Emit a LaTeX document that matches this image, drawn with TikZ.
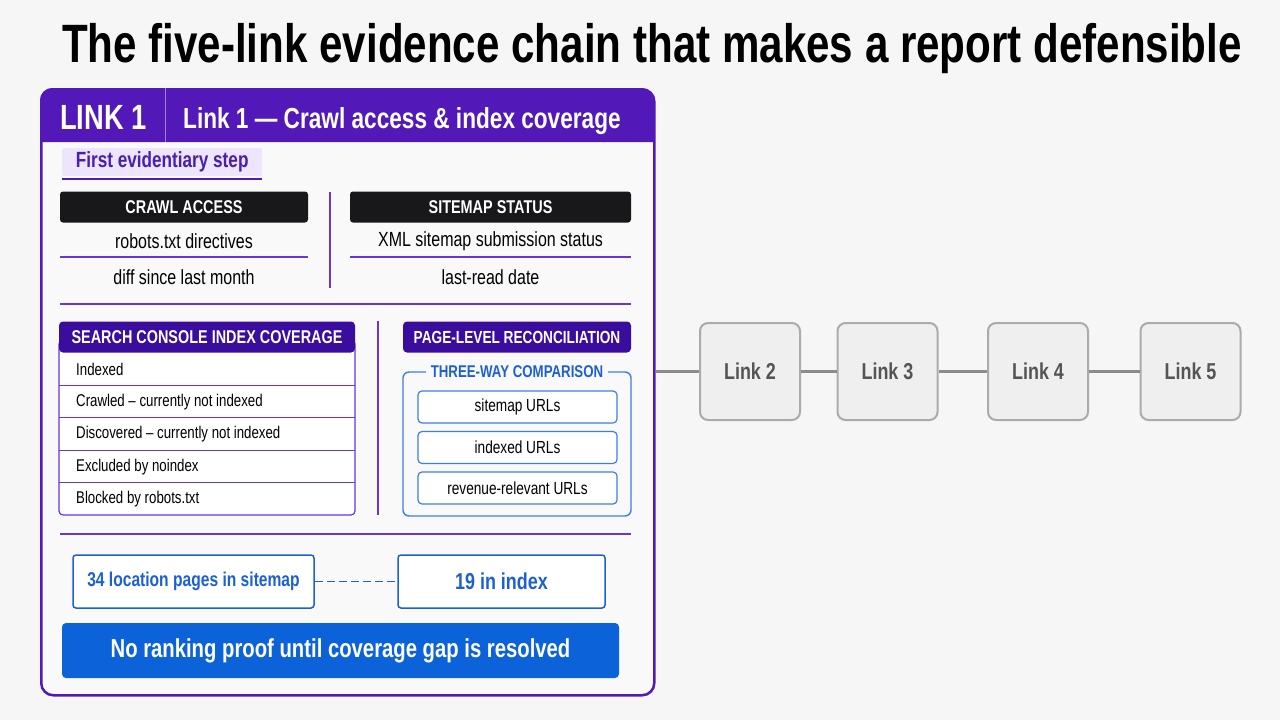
\documentclass[tikz,border=0pt]{standalone}
\usepackage{fontspec}
\setmainfont{Liberation Sans}[FakeStretch=0.78]
\usetikzlibrary{positioning}

\definecolor{pagebg}{HTML}{F6F6F7}
\definecolor{panelbg}{HTML}{F9F9FA}
\definecolor{hdrpurple}{HTML}{5219B8}
\definecolor{deeppurple}{HTML}{3B0D9F}
\definecolor{linepurple}{HTML}{6A35D4}
\definecolor{tagbg}{HTML}{ECE5FB}
\definecolor{tagtxt}{HTML}{4A1EAE}
\definecolor{barblack}{HTML}{18181B}
\definecolor{evblue}{HTML}{1C60D4}
\definecolor{boxblue}{HTML}{3D7EE8}
\definecolor{barblue}{HTML}{0C62D8}
\definecolor{linkfill}{HTML}{EFEFEF}
\definecolor{linkdraw}{HTML}{ABABAB}
\definecolor{linktxt}{HTML}{555555}
\definecolor{chaingray}{HTML}{8C8C8C}

\newcommand\fsz[1]{\fontsize{#1}{#1}\selectfont}

\begin{document}
\begin{tikzpicture}[x=1pt,y=-1pt,
  sepline/.style={linepurple,line width=1.2pt},
  blackbar/.style={fill=barblack,rounded corners=3pt,text=white,font=\fsz{18.5}\bfseries,minimum width=248pt,minimum height=31pt,inner sep=0pt},
  rowtxt/.style={font=\fsz{20.5},text=black,inner sep=0pt},
  purplebar/.style={fill=deeppurple,rounded corners=4pt,text=white,font=\fsz{18.5}\bfseries,minimum height=31pt,inner sep=0pt},
  listtxt/.style={font=\fsz{17},anchor=west,inner sep=0pt},
  urlbox/.style={draw=boxblue,line width=1.2pt,fill=white,rounded corners=4pt,minimum width=199pt,minimum height=32pt,font=\fsz{17.5},inner sep=0pt},
  countbox/.style={draw=evblue,line width=1.5pt,fill=white,rounded corners=3pt,minimum height=53pt,text=evblue,font=\fsz{20}\bfseries,inner sep=0pt},
  linkbox/.style={draw=linkdraw,line width=2pt,fill=linkfill,rounded corners=8pt,minimum width=100pt,minimum height=97pt,text=linktxt,font=\fsz{23}\bfseries},
  chain/.style={chaingray,line width=3pt}]
  \fill[pagebg] (0,0) rectangle (1280,720);
  \useasboundingbox (0,0) rectangle (1280,720);

  \node[anchor=base,font=\fsz{54}\bfseries] (title) at (652,62) {The five-link evidence chain that makes a report defensible};

  \node[draw=hdrpurple,line width=2.5pt,fill=panelbg,rounded corners=12pt,minimum width=613pt,minimum height=606pt,anchor=north west] (link1) at (40,88) {};
  \fill[hdrpurple] (40,142) [rounded corners=12pt] -- (40,88) -- (653,88) [sharp corners] -- (653,142) -- cycle;
  \draw[white!45!hdrpurple,line width=1pt] (165,88) -- (165,142);
  \node[anchor=base west,text=white,font=\fsz{35}\bfseries,inner sep=0pt] (linkno) at (60,129) {LINK 1};
  \node[anchor=base west,text=white,font=\fsz{29}\bfseries,inner sep=0pt] (linkname) at (183,128) {Link 1 — Crawl access \& index coverage};

  \node[fill=tagbg,rounded corners=2pt,anchor=north west,minimum width=200pt,minimum height=28pt,text=tagtxt,font=\fsz{22}\bfseries,inner sep=0pt] (step) at (62,148) {First evidentiary step};
  \draw[tagtxt,line width=2.5pt] ([yshift=-2.5pt]step.south west) -- ([yshift=-2.5pt]step.south east);

  \node[blackbar] (crawl) at (184,207) {CRAWL ACCESS};
  \node[rowtxt] (robots) at (184,241) {robots.txt directives};
  \node[rowtxt] (diff) at (184,277) {diff since last month};
  \draw[sepline] (60,257) -- (308,257);
  \draw[sepline] (330,192) -- (330,288);
  \node[blackbar,minimum width=281pt] (sitemap) at (490.5,207) {SITEMAP STATUS};
  \node[rowtxt] (xml) at (490.5,241) {XML sitemap submission status};
  \node[rowtxt] (lastread) at (490.5,277) {last-read date};
  \draw[sepline] (350,257) -- (631,257);

  \draw[sepline,line width=1.6pt] (60,304) -- (631,304);

  \draw[linepurple,line width=1.2pt,fill=white,rounded corners=4pt] (59,340) rectangle (355,515);
  \node[purplebar,minimum width=296pt] (console) at (207,337) {SEARCH CONSOLE INDEX COVERAGE};
  \foreach \i/\txt in {0/Indexed,1/{Crawled – currently not indexed},2/{Discovered – currently not indexed},3/{Excluded by noindex},4/{Blocked by robots.txt}}{
    \node[listtxt] (row\i) at (76,369.5+32.5*\i) {\txt};
  }
  \foreach \i in {0,...,3}{
    \draw[linepurple,line width=1pt] (59,385+32.5*\i) -- (355,385+32.5*\i);
  }
  \draw[sepline] (378,321) -- (378,515);

  \node[purplebar,minimum width=228pt,font=\fsz{17.5}\bfseries] (recon) at (517,337) {PAGE-LEVEL RECONCILIATION};
  \draw[boxblue,line width=1.4pt,rounded corners=6pt] (403,372) rectangle (631,516);
  \node[fill=panelbg,text=evblue,font=\fsz{17}\bfseries,inner xsep=5pt,inner ysep=1pt] (threeway) at (517,372) {THREE-WAY COMPARISON};
  \foreach \i/\txt in {0/{sitemap URLs},1/{indexed URLs},2/{revenue-relevant URLs}}{
    \node[urlbox] (url\i) at (517.5,407+40.5*\i) {\txt};
  }

  \draw[sepline,line width=1.6pt] (60,534) -- (631,534);

  \node[countbox,minimum width=241pt] (insitemap) at (193.5,581.5) {34 location pages in sitemap};
  \node[countbox,minimum width=207pt,font=\fsz{23}\bfseries] (inindex) at (501.5,581.5) {19 in index};
  \draw[evblue,line width=1.8pt,dash pattern=on 8pt off 4pt] (insitemap) -- (inindex);

  \node[fill=barblue,rounded corners=4pt,minimum width=557pt,minimum height=55pt,text=white,font=\fsz{26}\bfseries] (verdict) at (340.5,650.5) {No ranking proof until coverage gap is resolved};

  \foreach \n/\x in {2/750,3/887.5,4/1038,5/1190.5}{
    \node[linkbox] (link\n) at (\x,371.5) {Link \n};
  }
  \draw[chain] (link1.east |- link2.west) -- (link2.west);
  \foreach \a/\b in {2/3,3/4,4/5}{
    \draw[chain] (link\a) -- (link\b);
  }
\end{tikzpicture}
\end{document}
